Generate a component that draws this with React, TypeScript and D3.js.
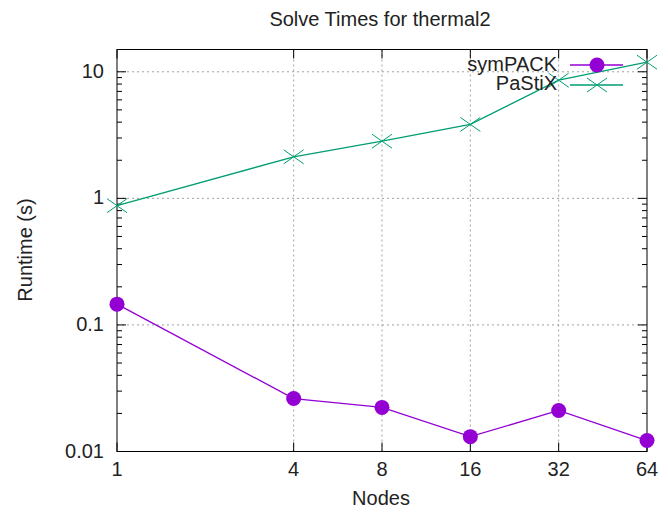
import React from "react";
import * as d3 from "d3";

const nodes = [1, 4, 8, 16, 32, 64];
const symPACK = [0.146, 0.0262, 0.0223, 0.0131, 0.0211, 0.0122];
const pastix = [0.875, 2.13, 2.83, 3.84, 8.58, 11.9];
const xTicks = [1, 4, 8, 16, 32, 64];
const yTicks = [0.01, 0.1, 1, 10];
const yTickLabels = ["0.01", "0.1", "1", "10"];
const seriesNames = ["symPACK", "PaStiX"];
const colors = ["#9400d3", "#009e73"];

const W = 668, H = 512;
const L = 117, R = 647, T = 49.5, B = 451.5;
const FONT = "Liberation Sans, Arial, sans-serif";

export default function App() {
  const x = d3.scaleLog().base(2).domain([1, 64]).range([L, R]);
  const y = d3.scaleLog().domain([0.01, 15]).range([B, T]);
  const line = d3.line<[number, number]>().x(d => x(d[0])).y(d => y(d[1]));
  const symPts: [number, number][] = nodes.map((n, i) => [n, symPACK[i]]);
  const paPts: [number, number][] = nodes.map((n, i) => [n, pastix[i]]);

  const minor: number[] = [];
  [0.01, 0.1, 1, 10].forEach(dec => {
    for (let k = 2; k <= 9; k++) {
      const v = dec * k;
      if (v <= 15) minor.push(v);
    }
  });

  const xMark = (cx: number, cy: number, s: number, c: string, key: string) => (
    <g key={key} stroke={c} strokeWidth={1}>
      <line x1={cx - s} y1={cy - s * 0.7} x2={cx + s} y2={cy + s * 0.7} />
      <line x1={cx - s} y1={cy + s * 0.7} x2={cx + s} y2={cy - s * 0.7} />
    </g>
  );

  return (
    <svg width={W} height={H} style={{ position: "absolute", left: 0, top: 0, background: "#fff" }}>
      <rect x={0} y={0} width={W} height={H} fill="#fff" />
      {/* grid */}
      <g stroke="#a0a0a0" strokeWidth={1} strokeDasharray="2,3">
        {xTicks.slice(1, -1).map(t => (
          <line key={"gx" + t} x1={x(t)} x2={x(t)} y1={T} y2={B} />
        ))}
        {yTicks.slice(1).map(t => (
          <line key={"gy" + t} x1={L} x2={R} y1={y(t)} y2={y(t)} />
        ))}
      </g>
      {/* ticks */}
      <g stroke="#000" strokeWidth={1}>
        {xTicks.map(t => (
          <g key={"xt" + t}>
            <line x1={x(t)} x2={x(t)} y1={B} y2={B - 9} />
            <line x1={x(t)} x2={x(t)} y1={T} y2={T + 9} />
          </g>
        ))}
        {yTicks.map(t => (
          <g key={"yt" + t}>
            <line x1={L} x2={L + 9} y1={y(t)} y2={y(t)} />
            <line x1={R} x2={R - 9} y1={y(t)} y2={y(t)} />
          </g>
        ))}
        {minor.map(t => (
          <g key={"ym" + t}>
            <line x1={L} x2={L + 5} y1={y(t)} y2={y(t)} />
            <line x1={R} x2={R - 5} y1={y(t)} y2={y(t)} />
          </g>
        ))}
      </g>
      <rect x={L} y={T} width={R - L} height={B - T} fill="none" stroke="#000" strokeWidth={1} />
      {/* tick labels */}
      <g fontFamily={FONT} fontSize={20} fill="#222">
        {xTicks.map(t => (
          <text key={"xl" + t} x={x(t)} y={B + 24.5} textAnchor="middle">{t}</text>
        ))}
        {yTicks.map((t, i) => (
          <text key={"yl" + t} x={104} y={y(t) + 6} textAnchor="end">{yTickLabels[i]}</text>
        ))}
        <text x={381} y={505} textAnchor="middle">Nodes</text>
        <text transform={`translate(32,250) rotate(-90)`} textAnchor="middle">Runtime (s)</text>
        <text x={380} y={26} textAnchor="middle">Solve Times for thermal2</text>
      </g>
      {/* series */}
      <path d={line(paPts) || ""} fill="none" stroke={colors[1]} strokeWidth={1.3} />
      {paPts.map((p, i) => xMark(x(p[0]), y(p[1]), 10, colors[1], "pm" + i))}
      <path d={line(symPts) || ""} fill="none" stroke={colors[0]} strokeWidth={1.3} />
      {symPts.map((p, i) => (
        <circle key={"sm" + i} cx={x(p[0])} cy={y(p[1])} r={7.5} fill={colors[0]} />
      ))}
      {/* legend */}
      <g fontFamily={FONT} fontSize={20} fill="#222">
        <text x={557} y={70.5} textAnchor="end">{seriesNames[0]}</text>
        <text x={557} y={90} textAnchor="end">{seriesNames[1]}</text>
      </g>
      <line x1={570} x2={623} y1={65} y2={65} stroke={colors[0]} strokeWidth={1.3} />
      <circle cx={597} cy={65} r={7.5} fill={colors[0]} />
      <line x1={570} x2={623} y1={85} y2={85} stroke={colors[1]} strokeWidth={1.3} />
      {xMark(597, 85, 10, colors[1], "lm")}
    </svg>
  );
}
